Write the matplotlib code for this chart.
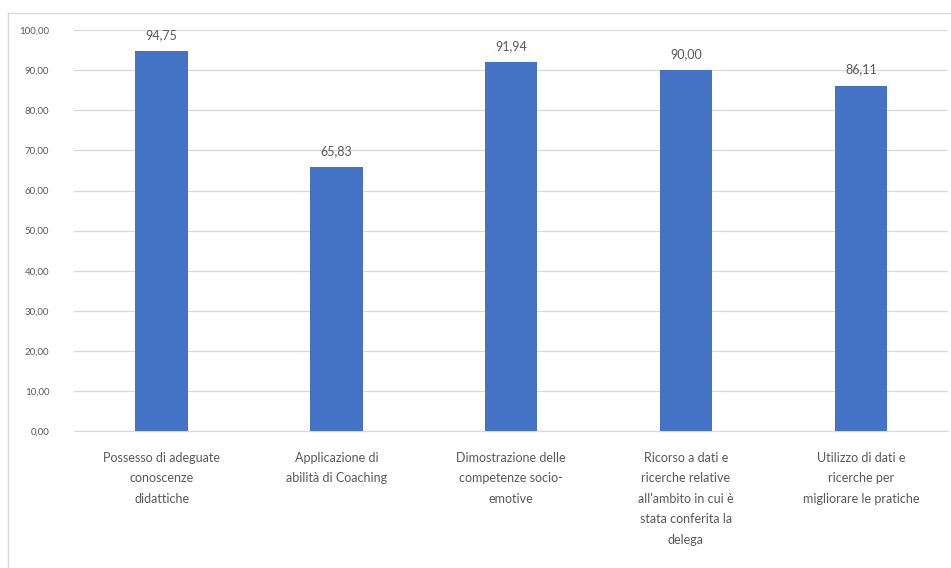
import matplotlib
matplotlib.use("Agg")
import matplotlib.pyplot as plt
from matplotlib.patches import Rectangle

# dati
categorie = [
    "Possesso di adeguate\nconoscenze\ndidattiche",
    "Applicazione di\nabilità di Coaching",
    "Dimostrazione delle\ncompetenze socio-\nemotive",
    "Ricorso a dati e\nricerche relative\nall'ambito in cui è\nstata conferita la\ndelega",
    "Utilizzo di dati e\nricerche per\nmigliorare le pratiche",
]
valori = [94.75, 65.83, 91.94, 90.00, 86.11]
yticks = [0, 10, 20, 30, 40, 50, 60, 70, 80, 90, 100]

grigio = "#595959"
plt.rcParams["font.family"] = ["Lato", "DejaVu Sans"]

fig = plt.figure(figsize=(9.51, 5.68), dpi=100)
fig.patches.append(Rectangle((8 / 951, -0.01), 1.0, 1 - 13 / 568 + 0.01,
                             transform=fig.transFigure, fill=False,
                             edgecolor="#d9d9d9", linewidth=1.0))
ax = fig.add_axes([0.078, 0.241, 0.919, 0.706])

x = range(len(categorie))
bars = ax.bar(x, valori, width=0.3, color="#4472C4", zorder=3)
for b, v in zip(bars, valori):
    ax.text(b.get_x() + b.get_width() / 2, v + 2.6, f"{v:.2f}".replace(".", ","),
            ha="center", va="bottom", fontsize=9, color=grigio)

ax.set_xlim(-0.5, len(categorie) - 0.5)
ax.set_ylim(0, 100)
ax.set_yticks(yticks)
ax.set_yticklabels([f"{t:.2f}".replace(".", ",") for t in yticks], fontsize=7, color=grigio)
ax.set_xticks(list(x))
ax.set_xticklabels(categorie, fontsize=9, color=grigio, linespacing=1.85, va="top")
ax.tick_params(axis="x", length=0, pad=15)
ax.tick_params(axis="y", length=0, pad=18)
ax.grid(axis="y", color="#d9d9d9", linewidth=0.9, zorder=0)
for s in ["top", "right", "left"]:
    ax.spines[s].set_visible(False)
ax.spines["bottom"].set_color("#d9d9d9")

fig.savefig("out.png", dpi=100)
